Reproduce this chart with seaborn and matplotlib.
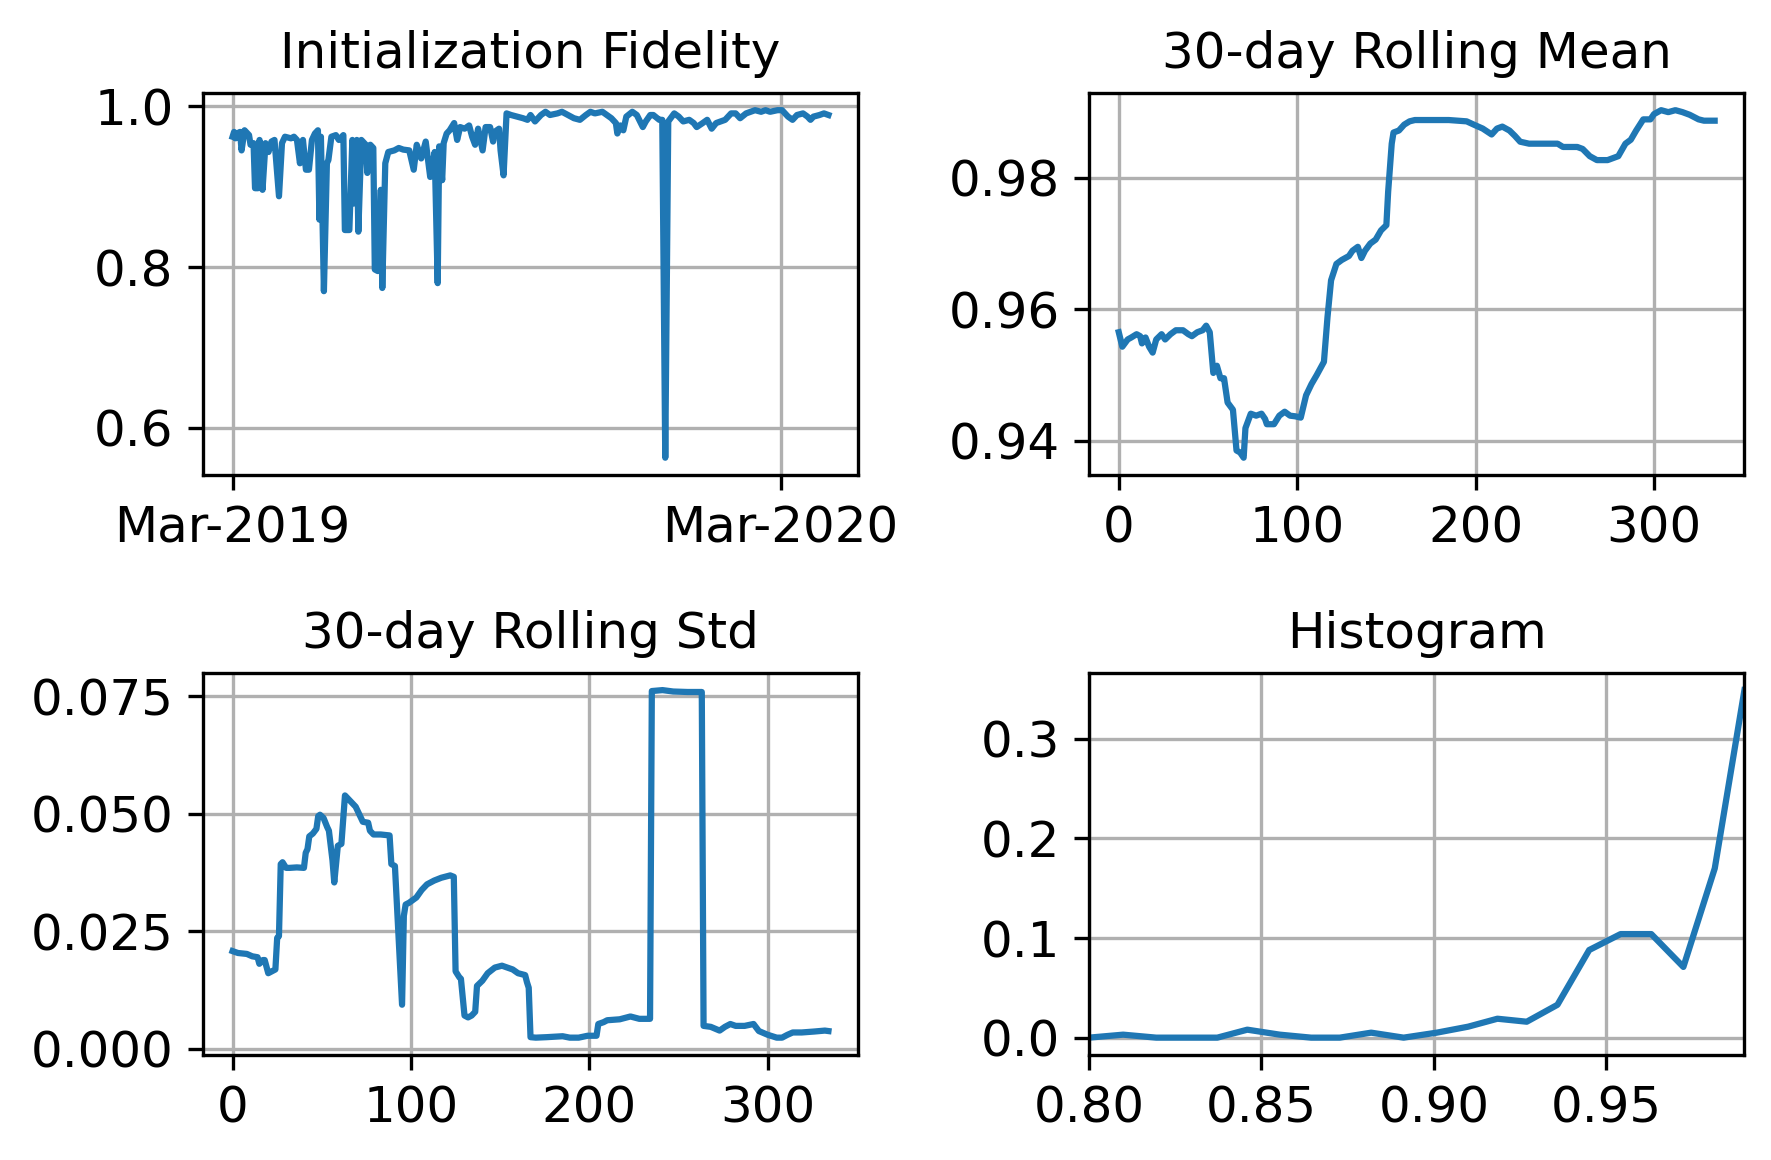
import matplotlib
matplotlib.use('Agg')
import matplotlib.pyplot as plt
import matplotlib.dates as mdates
import matplotlib.ticker as mticker
import seaborn as sns
import pandas as pd

# Raw daily fidelity: days after START_DATE and the values
START_DATE = '2019-03-01'
raw_days = [0, 1, 2, 3, 5, 6, 8, 11, 12, 14, 15, 17, 18, 20, 22, 24, 26, 28,
            31, 33, 35, 39, 41, 43, 45, 47, 49, 51, 53, 55, 57, 58, 59, 61,
            63, 64, 66, 69, 71, 74, 75, 78, 80, 81, 83, 84, 86, 89, 90, 92,
            94, 95, 97, 99, 100, 102, 104, 108, 111, 114, 118, 121, 123, 126,
            129, 132, 135, 137, 138, 140, 141, 143, 145, 148, 150, 152, 155,
            158, 160, 162, 164, 167, 169, 172, 174, 175, 178, 179, 181, 183,
            186, 190, 194, 197, 199, 202, 206, 209, 212, 217, 220, 223, 228,
            232, 236, 239, 242, 247, 250, 253, 256, 257, 259, 261, 263, 267,
            270, 274, 276, 279, 281, 285, 287, 289, 291, 295, 298, 301, 305,
            308, 310, 314, 317, 320, 323, 326, 329, 333, 336, 339, 343, 346,
            349, 353, 356, 359, 364, 367, 371, 374, 377, 381, 384, 386, 388,
            392, 395, 398]
raw_fidelity = [0.962, 0.968, 0.960, 0.966, 0.968, 0.945, 0.970, 0.964, 0.952,
                0.954, 0.898, 0.898, 0.958, 0.896, 0.954, 0.943, 0.956, 0.958,
                0.888, 0.954, 0.962, 0.960, 0.962, 0.958, 0.929, 0.958, 0.921,
                0.921, 0.958, 0.966, 0.970, 0.859, 0.962, 0.770, 0.929, 0.933,
                0.962, 0.964, 0.958, 0.964, 0.846, 0.846, 0.958, 0.879, 0.958,
                0.844, 0.958, 0.952, 0.917, 0.952, 0.948, 0.797, 0.795, 0.896,
                0.774, 0.929, 0.943, 0.945, 0.948, 0.946, 0.945, 0.921, 0.952,
                0.935, 0.956, 0.912, 0.943, 0.780, 0.950, 0.908, 0.954, 0.966,
                0.970, 0.979, 0.958, 0.974, 0.972, 0.976, 0.962, 0.952, 0.972,
                0.945, 0.974, 0.974, 0.956, 0.968, 0.972, 0.945, 0.914, 0.991,
                0.989, 0.987, 0.985, 0.983, 0.989, 0.981, 0.989, 0.993, 0.989,
                0.991, 0.993, 0.990, 0.985, 0.983, 0.989, 0.993, 0.991, 0.993,
                0.989, 0.985, 0.979, 0.966, 0.976, 0.970, 0.987, 0.993, 0.989,
                0.974, 0.981, 0.989, 0.989, 0.983, 0.983, 0.563, 0.981, 0.991,
                0.987, 0.981, 0.983, 0.979, 0.974, 0.979, 0.983, 0.972, 0.979,
                0.981, 0.983, 0.991, 0.991, 0.985, 0.991, 0.993, 0.995, 0.993,
                0.995, 0.993, 0.995, 0.995, 0.987, 0.983, 0.989, 0.991, 0.987,
                0.983, 0.987, 0.989, 0.991, 0.989]

# 30-day rolling mean (sample index, value)
mean_idx = [0, 2, 5, 7, 10, 12, 13, 15, 17, 19, 21, 24, 26, 29, 32, 36, 39,
            41, 44, 47, 49, 51, 53, 55, 57, 59, 61, 64, 66, 68, 70, 71, 74,
            77, 80, 82, 83, 87, 90, 93, 96, 99, 102, 105, 108, 111, 115, 117,
            119, 122, 125, 129, 131, 134, 136, 138, 141, 144, 147, 150, 151,
            153, 154, 157, 160, 163, 166, 185, 195, 199, 204, 209, 212, 215,
            219, 222, 225, 230, 246, 249, 257, 260, 264, 268, 274, 280, 284,
            287, 290, 294, 298, 300, 304, 308, 312, 316, 320, 325, 328, 334]
mean_vals = [0.9565, 0.9543, 0.9554, 0.9557, 0.9562, 0.9559, 0.9548, 0.9557,
             0.9543, 0.9534, 0.9554, 0.9562, 0.9554, 0.9562, 0.9568, 0.9568,
             0.9562, 0.9559, 0.9565, 0.9568, 0.9575, 0.9565, 0.9503, 0.9514,
             0.9495, 0.9495, 0.9458, 0.9447, 0.9385, 0.9382, 0.9374, 0.9419,
             0.9441, 0.9438, 0.9441, 0.9433, 0.9425, 0.9425, 0.9438, 0.9444,
             0.9438, 0.9437, 0.9435, 0.9469, 0.9486, 0.9500, 0.9520, 0.9588,
             0.9644, 0.9669, 0.9675, 0.9681, 0.9689, 0.9695, 0.9678, 0.9689,
             0.9700, 0.9706, 0.9720, 0.9728, 0.9779, 0.9852, 0.9869, 0.9872,
             0.9881, 0.9886, 0.9888, 0.9888, 0.9886, 0.9881, 0.9875, 0.9866,
             0.9875, 0.9878, 0.9872, 0.9864, 0.9855, 0.9852, 0.9852, 0.9847,
             0.9847, 0.9844, 0.9833, 0.9827, 0.9827, 0.9833, 0.9852, 0.9858,
             0.9872, 0.9889, 0.9889, 0.9897, 0.9903, 0.9900, 0.9903, 0.9900,
             0.9896, 0.9889, 0.9887, 0.9887]

# 30-day rolling std (sample index, value)
std_idx = [0, 3, 8, 11, 14, 15, 17, 18, 20, 22, 24, 25, 26, 27, 28, 30, 32,
           36, 40, 41, 42, 43, 45, 47, 48, 49, 51, 53, 54, 56, 57, 59, 61, 63,
           65, 67, 69, 72, 73, 76, 77, 79, 83, 88, 89, 91, 95, 96, 97, 99,
           103, 106, 109, 113, 117, 120, 122, 124, 125, 127, 128, 130, 132,
           134, 136, 137, 140, 143, 147, 151, 154, 157, 160, 164, 165, 166,
           167, 170, 176, 185, 189, 194, 199, 204, 205, 208, 210, 217, 223,
           228, 233, 234, 235, 241, 247, 255, 262, 263, 264, 268, 273, 276,
           279, 282, 287, 292, 295, 300, 305, 308, 311, 314, 319, 326, 332,
           334]
std_vals = [0.0208, 0.0204, 0.0202, 0.0197, 0.0195, 0.0181, 0.0189, 0.0189,
            0.0161, 0.0165, 0.0169, 0.0236, 0.0240, 0.0393, 0.0397, 0.0385,
            0.0385, 0.0386, 0.0385, 0.0417, 0.0425, 0.0452, 0.0458, 0.0468,
            0.0495, 0.0498, 0.0491, 0.0472, 0.0464, 0.0401, 0.0354, 0.0432,
            0.0436, 0.0539, 0.0531, 0.0523, 0.0515, 0.0491, 0.0483, 0.0481,
            0.0464, 0.0456, 0.0456, 0.0454, 0.0393, 0.0389, 0.0094, 0.0283,
            0.0307, 0.0311, 0.0322, 0.0338, 0.0350, 0.0358, 0.0364, 0.0367,
            0.0369, 0.0366, 0.0165, 0.0153, 0.0149, 0.0071, 0.0067, 0.0071,
            0.0079, 0.0134, 0.0145, 0.0161, 0.0173, 0.0177, 0.0173, 0.0169,
            0.0161, 0.0157, 0.0142, 0.0130, 0.0025, 0.0024, 0.0025, 0.0027,
            0.0024, 0.0024, 0.0028, 0.0028, 0.0053, 0.0057, 0.0061, 0.0063,
            0.0069, 0.0064, 0.0064, 0.0064, 0.0761, 0.0763, 0.0760, 0.0759,
            0.0759, 0.0759, 0.0049, 0.0047, 0.0039, 0.0047, 0.0053, 0.0049,
            0.0049, 0.0053, 0.0038, 0.0030, 0.0024, 0.0024, 0.0030, 0.0035,
            0.0035, 0.0037, 0.0039, 0.0038]

# Normalised histogram of the fidelity values
hist_bins = [0.8000, 0.8099, 0.8195, 0.8284, 0.8372, 0.8459, 0.8553, 0.8644,
             0.8727, 0.8818, 0.8912, 0.9008, 0.9099, 0.9184, 0.9269, 0.9358,
             0.9450, 0.9541, 0.9630, 0.9723, 0.9814, 0.9900]
hist_freq = [0.000, 0.003, 0.000, 0.000, 0.000, 0.008, 0.003, 0.000, 0.000,
             0.005, 0.000, 0.005, 0.011, 0.019, 0.016, 0.033, 0.088, 0.104,
             0.104, 0.071, 0.170, 0.349]

# Plot style
plt.rcParams['font.size'] = 12
plt.rcParams['axes.titlesize'] = 12
plt.rcParams['axes.grid'] = True


def main():
    dates = pd.Timestamp(START_DATE) + pd.to_timedelta(raw_days, unit='D')

    fig, axes = plt.subplots(2, 2, figsize=(1771 / 300, 1160 / 300), dpi=300)
    fig.subplots_adjust(left=0.1145, right=0.985, top=0.920, bottom=0.0905,
                        wspace=0.352, hspace=0.517)

    # Raw fidelity over time
    ax = axes[0, 0]
    sns.lineplot(x=dates, y=raw_fidelity, ax=ax, color='C0')
    ax.xaxis.set_major_locator(mdates.MonthLocator(bymonth=3))
    ax.xaxis.set_major_formatter(mdates.DateFormatter('%b-%Y'))
    ax.yaxis.set_major_locator(mticker.MultipleLocator(0.2))
    ax.set_title('Initialization Fidelity')

    # Rolling mean
    ax = axes[0, 1]
    sns.lineplot(x=mean_idx, y=mean_vals, ax=ax, color='C0')
    ax.xaxis.set_major_locator(mticker.MultipleLocator(100))
    ax.yaxis.set_major_locator(mticker.MultipleLocator(0.02))
    ax.set_title('30-day Rolling Mean')

    # Rolling std
    ax = axes[1, 0]
    sns.lineplot(x=std_idx, y=std_vals, ax=ax, color='C0')
    ax.xaxis.set_major_locator(mticker.MultipleLocator(100))
    ax.yaxis.set_major_locator(mticker.MultipleLocator(0.025))
    ax.yaxis.set_major_formatter(mticker.FormatStrFormatter('%.3f'))
    ax.set_title('30-day Rolling Std')

    # Histogram
    ax = axes[1, 1]
    sns.lineplot(x=hist_bins, y=hist_freq, ax=ax, color='C0')
    ax.set_xlim(hist_bins[0], hist_bins[-1])
    ax.xaxis.set_major_locator(mticker.MultipleLocator(0.05))
    ax.xaxis.set_major_formatter(mticker.FormatStrFormatter('%.2f'))
    ax.yaxis.set_major_locator(mticker.MultipleLocator(0.1))
    ax.yaxis.set_major_formatter(mticker.FormatStrFormatter('%.1f'))
    ax.set_title('Histogram')

    for ax in axes.flat:
        ax.grid(True)
        ax.set_xlabel('')
        ax.set_ylabel('')

    fig.savefig('out.png', dpi=300)
    plt.close()


if __name__ == "__main__":
    main()
